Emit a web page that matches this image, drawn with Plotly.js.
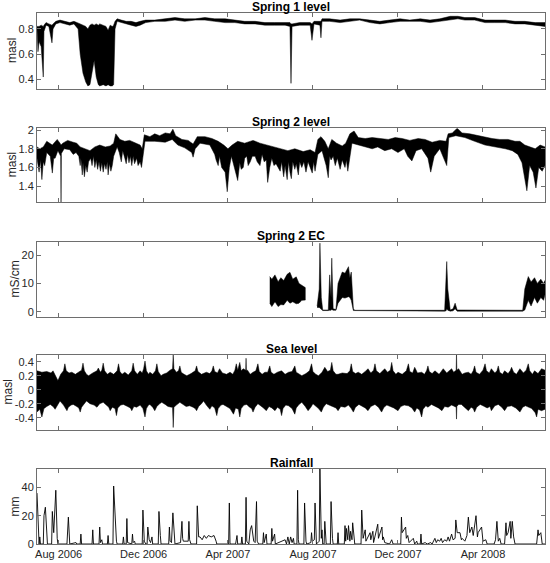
<!DOCTYPE html>
<html>
<head>
<meta charset="utf-8">
<script src="https://cdn.plot.ly/plotly-3.0.1.min.js"></script>
<style>
  html, body { margin: 0; padding: 0; background: #fff; }
  #chart { width: 550px; height: 563px; }
</style>
</head>
<body>
<div id="chart"></div>
<script>
// all series are keyed by day offset from 1 Jul 2006
const startDate = Date.UTC(2006, 6, 1);

const tickDates = ["2006-08-01", "2006-12-01", "2007-04-01", "2007-08-01", "2007-12-01", "2008-04-01"];
const tickLabels = ["Aug 2006", "Dec 2006", "Apr 2007", "Aug 2007", "Dec 2007", "Apr 2008"];

const panelTitles = ["Spring 1 level", "Spring 2 level", "Spring 2 EC", "Sea level", "Rainfall"];
const unitLabels = ["masl", "masl", "mS/cm", "masl", "mm"];

// Spring 1 level: upper / lower edge of the dense trace
const s1Days = [0,1.4,3,6,9,10,13,17,21.5,23,27,33,40,47,53,59,62,66,70,73,76,79,82,85,88,90,95,99,102,105,108,110,112,115,121,128,135,142,148,156,169,184,198,212,227,241,255,270,284,298,313,327,341,356,363,364.5,366,377,392,394.6,397.5,406,407.5,409,420,435,449,463,478,492,506,521,535,550,564,578,593,604,614,628,643,657,672,686,700,715,729];
const s1Hi = [0.82,0.82,0.82,0.83,0.82,0.83,0.85,0.84,0.83,0.84,0.86,0.87,0.86,0.85,0.86,0.85,0.84,0.83,0.82,0.80,0.83,0.84,0.83,0.84,0.83,0.84,0.83,0.82,0.79,0.83,0.82,0.83,0.86,0.88,0.87,0.86,0.86,0.85,0.86,0.87,0.87,0.88,0.89,0.88,0.88,0.89,0.88,0.88,0.87,0.86,0.86,0.85,0.85,0.85,0.85,0.84,0.84,0.85,0.85,0.84,0.86,0.86,0.86,0.88,0.88,0.87,0.88,0.88,0.87,0.86,0.87,0.88,0.87,0.88,0.87,0.88,0.90,0.90,0.89,0.89,0.87,0.87,0.87,0.86,0.86,0.85,0.85];
const s1Lo = [0.80,0.62,0.70,0.66,0.42,0.78,0.83,0.82,0.69,0.80,0.84,0.85,0.84,0.83,0.84,0.80,0.60,0.45,0.38,0.35,0.36,0.45,0.55,0.42,0.36,0.35,0.36,0.35,0.36,0.35,0.35,0.36,0.80,0.86,0.85,0.84,0.83,0.82,0.83,0.85,0.86,0.86,0.87,0.86,0.87,0.87,0.86,0.85,0.85,0.84,0.84,0.83,0.83,0.83,0.82,0.37,0.82,0.83,0.83,0.71,0.84,0.83,0.73,0.86,0.86,0.85,0.86,0.87,0.85,0.84,0.85,0.86,0.86,0.86,0.85,0.86,0.87,0.88,0.87,0.87,0.85,0.85,0.85,0.84,0.84,0.83,0.82];

// Spring 2 level
const s2HiDays = [0,4,9,14,22,29,33,34.5,37,44,52,57,62,69,76,83,90,98,105,110,113,119,126,133,141,148,151,154,162,169,176,184,191,195,199,208,217,224,230,241,251,260,268,274,280,288,298,310,320,331,341.5,352,360,370,382,392,399,403,407.5,413,418,423,430,438,443,449,455,461,471,481,492,504,514,524,535,547,557,567,578,587,590,596,603,610,621,633,643,653,664,676,686,693,700,707,715,722,729];
const s2Hi = [1.82,1.80,1.82,1.88,1.84,1.90,1.86,1.84,1.86,1.89,1.87,1.86,1.82,1.80,1.78,1.82,1.84,1.82,1.83,1.86,1.96,1.90,1.88,1.89,1.86,1.84,1.80,1.95,1.93,1.96,1.94,1.97,1.96,2.01,1.94,1.90,1.89,1.85,1.93,1.93,1.91,1.88,1.84,1.80,1.84,1.88,1.86,1.89,1.86,1.84,1.82,1.80,1.78,1.80,1.77,1.79,1.76,1.90,1.93,1.88,1.80,1.90,1.86,1.83,1.86,1.96,1.99,1.92,1.91,1.92,1.91,1.90,1.92,1.91,1.89,1.91,1.90,1.87,1.89,1.88,1.96,1.97,2.02,1.97,1.96,1.94,1.93,1.91,1.90,1.90,1.88,1.88,1.84,1.82,1.80,1.84,1.82];
const s2LoDays = [0,3,5,7,9,11,14,19,22,24,26,30,34,34.5,35,39,47,52,56,60,62,63,65,66,68,70,72,74,77,79,81,83,85,87,89,91,93,95,97,99,101,102,104,106,108,110,115,118,121,123,126,128,130,132,134,136,138,140,143,145,148,150,152,155,169,184,194,202,212,222,224,227,234,248,255,257,260,262,265,267,270,273,276,279,281,283,286,288,291,293,296,298,301,303,306,309,313,316,320,323,326,329,331,334,337,340,343,349,351,354,356,359,361,363,365,367,370,372,375,377,380,383,386,389,392,395,397,399,403,409,412,415,418,420,422,425,428,431,435,438,442,444,446,452,461,471,481,489,499,509,518,527,532,538,544,552,561,565,570,578,584,588,591,601,614,628,643,657,672,682,690,696,700,703,707,712,716,720,725,729];
const s2Lo = [1.70,1.55,1.68,1.47,1.66,1.62,1.76,1.72,1.54,1.70,1.70,1.78,1.72,1.23,1.75,1.80,1.79,1.74,1.76,1.72,1.62,1.70,1.52,1.65,1.50,1.62,1.55,1.66,1.70,1.62,1.72,1.60,1.68,1.58,1.66,1.56,1.65,1.55,1.64,1.58,1.66,1.52,1.64,1.56,1.62,1.72,1.82,1.76,1.66,1.78,1.70,1.64,1.74,1.65,1.72,1.62,1.72,1.64,1.70,1.62,1.66,1.60,1.68,1.88,1.88,1.87,1.90,1.84,1.81,1.76,1.71,1.80,1.86,1.84,1.74,1.68,1.62,1.72,1.60,1.58,1.55,1.34,1.60,1.72,1.68,1.60,1.52,1.46,1.65,1.58,1.60,1.70,1.72,1.62,1.66,1.72,1.72,1.66,1.62,1.74,1.66,1.68,1.44,1.60,1.70,1.62,1.64,1.56,1.66,1.50,1.62,1.47,1.66,1.55,1.48,1.66,1.58,1.64,1.52,1.66,1.60,1.66,1.55,1.66,1.60,1.54,1.66,1.56,1.74,1.78,1.70,1.62,1.49,1.72,1.68,1.72,1.62,1.70,1.58,1.68,1.60,1.68,1.56,1.86,1.84,1.82,1.80,1.82,1.78,1.80,1.76,1.80,1.72,1.67,1.78,1.80,1.70,1.55,1.72,1.80,1.70,1.62,1.92,1.94,1.92,1.88,1.84,1.82,1.80,1.78,1.74,1.65,1.50,1.35,1.62,1.55,1.38,1.60,1.56,1.62];

// Spring 2 EC, two recorded stretches
const ecDays1 = [334,337,341.5,346,350,354,359,363,367,372,376,380,385];
const ecHi1 = [12.4,11.5,13.0,10.6,12.0,11.0,13.2,13.9,11.5,12.3,10.0,9.4,8.5];
const ecLo1 = [3.0,1.8,3.5,1.8,2.5,2.4,4.0,3.0,3.5,2.8,3.0,4.0,4.1];
const ecDays2 = [402,405,406,408,410,418,420,422,423,425,429,432,438,442,447,449,451,454,456,585,587,588,589.5,593,597,600,603,697,700,705,709,714,718,723,727,729];
const ecHi2 = [2.0,8,24.2,5,0.6,0.6,13,5,18.9,1,0.8,10,14,13.6,15.9,12,14,1,0.5,0.5,12,17.7,8,0.6,1,3,0.6,0.5,8,12.4,10.5,12,10,11.5,10,11];
const ecLo2 = [1.5,1.5,1,0.8,0.4,0.4,0.5,0.5,0.8,0.5,0.5,3,5,4.8,5.3,5,4,0.4,0.2,0.2,0.3,1,0.5,0.2,0.3,1,0.2,0.2,0.6,4,2,5,3,5,4,6];

// Sea level
const seaHiDays = [0,7,14,20,23,27,30,34,38,40,42,46,50,55,59,64,66,68,71,74,80,86,88,91,93,95,97,101,105,110,115,117,119,122,126,131,136,138,140,144,148,151,153,155,157,160,162,166,170,172,174,178,181,186,191,194.5,195.5,196.5,200,203,205,207,211,215,221,227,229,231,236,243,248,251,253,255,259,262,266,272,277,281,284,286,288,291,293,296,299.5,300,300.5,302,306,310,314,317,319,323,327,331,334,336,340,345,351,356,361,366,370,372,376,380,386,391,394,396,400,404,409,413,417,421,423,425,429,432,438,445,449,451,453,457,461,466,471,475,479,483,485,487,492,499,503,507,509,511,515,518,524,530,533,535,539,542,546,552,556,559,561,563,567,571,577,583,588,595,598,601.5,602,602.5,605,610,614,619,623,626,628,630,635,640,643,645,649,652,657,660,662,664,668,671,676,679,681,684,688,693,698,702,705,707,711,714,719,724,729];
const seaHi = [0.27,0.25,0.26,0.24,0.27,0.2,0.13,0.22,0.27,0.37,0.27,0.24,0.25,0.22,0.25,0.28,0.38,0.27,0.22,0.20,0.24,0.27,0.31,0.25,0.28,0.38,0.27,0.22,0.25,0.22,0.27,0.37,0.26,0.22,0.25,0.21,0.27,0.38,0.27,0.22,0.27,0.24,0.30,0.41,0.27,0.22,0.25,0.22,0.27,0.37,0.26,0.2,0.22,0.24,0.28,0.30,0.50,0.30,0.25,0.27,0.34,0.25,0.22,0.20,0.23,0.27,0.34,0.26,0.22,0.25,0.23,0.27,0.34,0.26,0.24,0.30,0.24,0.22,0.25,0.22,0.28,0.37,0.28,0.39,0.27,0.30,0.28,0.45,0.28,0.28,0.22,0.25,0.27,0.37,0.26,0.22,0.25,0.25,0.34,0.25,0.22,0.25,0.27,0.22,0.25,0.26,0.34,0.25,0.22,0.20,0.23,0.27,0.37,0.26,0.22,0.20,0.25,0.32,0.26,0.28,0.39,0.27,0.22,0.22,0.24,0.23,0.27,0.37,0.26,0.23,0.25,0.22,0.26,0.30,0.24,0.28,0.37,0.27,0.23,0.30,0.25,0.28,0.39,0.27,0.22,0.25,0.22,0.27,0.37,0.26,0.24,0.32,0.24,0.25,0.22,0.27,0.34,0.26,0.23,0.27,0.22,0.30,0.24,0.30,0.25,0.28,0.51,0.28,0.30,0.22,0.24,0.25,0.22,0.27,0.34,0.25,0.22,0.28,0.37,0.27,0.24,0.30,0.24,0.27,0.34,0.25,0.22,0.27,0.23,0.27,0.32,0.25,0.22,0.30,0.24,0.28,0.37,0.27,0.22,0.27,0.23,0.30,0.28];
const seaLoDays = [0,4,7,10,14,19,23,26,29,33,38,41,43,45,49,52,57,60,62,64,68,71,76,82,86,90,95,99,103,105,108,112,114,116,120,124,130,134,136,139,143,148,152,155,157,160,162,166,169,172,176,179,184,188,193,194.5,195.5,196.5,200,205,210,214,219,224,227,229,232,236,239,243,248,251,255,258,260,264,267,272,277,282,285,289,291,293,297,301,305,308,310,313,317,320,325,329,333,337,341.5,345,349,351,353,357,361,366,370,372,376,380,385,389,393,396,399,404,408,411,415,418,424,429,432,436,442,447,451,454,457,462,466,471,475,479,485,490,494.5,498,502,506,512,518,522,527,533,538,542,545,549,552,554,558,561,566,571,576,581,585,590,595,601.5,602,602.5,605,609,614,619,623,626,628,631,636,640,646,650,652,657,662,667,671,675,681,687,693,697,701,705,710,715,717,719,724,729];
const seaLo = [-0.32,-0.28,-0.39,-0.27,-0.24,-0.21,-0.24,-0.28,-0.22,-0.16,-0.22,-0.26,-0.30,-0.25,-0.22,-0.21,-0.24,-0.26,-0.32,-0.25,-0.2,-0.16,-0.2,-0.22,-0.25,-0.2,-0.18,-0.22,-0.25,-0.30,-0.25,-0.27,-0.37,-0.26,-0.22,-0.21,-0.24,-0.26,-0.30,-0.24,-0.25,-0.22,-0.27,-0.39,-0.27,-0.22,-0.21,-0.25,-0.30,-0.24,-0.2,-0.18,-0.21,-0.24,-0.25,-0.25,-0.54,-0.25,-0.22,-0.18,-0.21,-0.24,-0.23,-0.25,-0.27,-0.30,-0.24,-0.2,-0.16,-0.22,-0.28,-0.23,-0.26,-0.37,-0.27,-0.22,-0.21,-0.24,-0.27,-0.35,-0.26,-0.28,-0.39,-0.27,-0.22,-0.21,-0.25,-0.27,-0.32,-0.25,-0.2,-0.23,-0.26,-0.30,-0.24,-0.26,-0.30,-0.25,-0.28,-0.37,-0.27,-0.22,-0.23,-0.27,-0.35,-0.26,-0.21,-0.18,-0.24,-0.30,-0.25,-0.2,-0.23,-0.27,-0.32,-0.25,-0.2,-0.21,-0.24,-0.26,-0.30,-0.24,-0.25,-0.22,-0.27,-0.32,-0.25,-0.21,-0.23,-0.26,-0.30,-0.24,-0.21,-0.25,-0.32,-0.25,-0.22,-0.23,-0.26,-0.30,-0.24,-0.22,-0.23,-0.26,-0.32,-0.26,-0.29,-0.39,-0.28,-0.23,-0.25,-0.21,-0.23,-0.26,-0.30,-0.24,-0.25,-0.22,-0.25,-0.42,-0.24,-0.21,-0.21,-0.25,-0.30,-0.25,-0.27,-0.32,-0.25,-0.21,-0.23,-0.26,-0.24,-0.30,-0.23,-0.21,-0.25,-0.30,-0.24,-0.23,-0.26,-0.32,-0.25,-0.23,-0.25,-0.27,-0.33,-0.39,-0.28,-0.30,-0.28];

// Rainfall (mm)
const rainDays = [0,2,3,4,5,9,10,12,14,15,21,22,24,27,29,30,43,45,47,56,57,62,63,64,79,80,81,89,90,91,93,94,101,102,103,109,110,112,114,115,123,124,125,128,129,130,136,137,138,140,141,151,152,154,156,158,159,161,163,165,166,174,175,177,178,189,190,191,193,195,197,198,206,208,209,210,217,218,219,221,229,230,232,234,237,240,243,246,250,254,257,258,275,276,277,285,287,288,293,294,295,299,300,301,304,306,308,310,311,313,315,316,318,324,325,326,329,330,336,337,338,341,342,356,358,360,362,364,366,368,369,373,374,375,376,383,384,386,387,393,394,395,398,399,400,401,405,406,408,409,410,412,413,414,415,421,422,424,425,431,432,433,441,442,443,444,446,447,449,450,452,453,455,456,465,466,468,471,472,478,479,482,483,489,490,491,495,496,497,499,506,509,511,522,523,524,529,530,532,534,540,542,545,546,550,551,552,557,560,565,567,571,573,575,578,580,582,585,588,590,592,595,597,600,601,603,607,609,610,614,617,619,621,624,626,630,632,633,638,640,644,646,656,658,660,662,664,666,671,673,674,676,679,680,682,684,686,717,719,720,723,725,729];
const rainMm = [36,2,0,5,0,0,20,26,2,0,0,23,8,38,4,0,0,19,0,1,0,0,7,0,0,10,0,0,12,1,3,0,0,6,0,0,41,16,2,0,0,5,0,0,18,1,0,7,1,2,0,0,24,2,0,0,12,3,1,5,0,0,23,6,0,0,12,2,1,22,3,0,1,16,4,2,2,16,3,0,0,27,5,5,3,6,4,6,5,6,2,0,0,29,0,0,6,0,0,5,0,0,33,2,0,10,13,7,2,1,30,2,0,0,8,1,7,0,0,11,2,7,0,3,0,5,0,5,1,4,0,0,38,3,0,0,29,2,0,1,8,2,3,29,5,0,2,53,4,10,0,0,16,3,0,0,30,4,0,0,8,0,0,13,2,11,3,13,2,9,3,15,4,0,0,24,4,10,2,8,3,9,1,14,4,6,12,3,5,1,0,3,0,0,19,8,12,4,6,1,4,0,2,0,0,7,0,1,0,1,0,4,1,3,2,4,1,3,2,5,2,7,3,4,17,8,8,3,4,2,6,19,8,12,6,20,5,8,12,2,3,0,0,3,16,2,4,0,0,15,6,8,16,4,16,5,0,0,10,6,8,0,0];

[[s1Days, s1Hi], [s1Days, s1Lo], [s2HiDays, s2Hi], [s2LoDays, s2Lo], [ecDays1, ecHi1], [ecDays1, ecLo1],
 [ecDays2, ecHi2], [ecDays2, ecLo2], [seaHiDays, seaHi], [seaLoDays, seaLo], [rainDays, rainMm]].forEach((p, i) => {
  if (p[0].length !== p[1].length) throw new Error("length mismatch in pair " + i + ": " + p[0].length + " vs " + p[1].length);
});

function toDate(d) {
  return new Date(startDate + d * 864e5).toISOString().slice(0, 19).replace("T", " ");
}

// closed outline between an upper and a lower edge, filled black
function band(hiDays, hi, loDays, lo, n) {
  return {
    x: hiDays.concat(loDays.slice().reverse()).map(toDate),
    y: hi.concat(lo.slice().reverse()),
    xaxis: "x" + (n > 1 ? n : ""),
    yaxis: "y" + (n > 1 ? n : ""),
    type: "scatter",
    mode: "lines",
    fill: "toself",
    fillcolor: "#000",
    line: { color: "#000", width: 0.5 },
    hoverinfo: "skip",
    showlegend: false,
  };
}

const traces = [
  band(s1Days, s1Hi, s1Days, s1Lo, 1),
  band(s2HiDays, s2Hi, s2LoDays, s2Lo, 2),
  band(ecDays1, ecHi1, ecDays1, ecLo1, 3),
  band(ecDays2, ecHi2, ecDays2, ecLo2, 3),
  band(seaHiDays, seaHi, seaLoDays, seaLo, 4),
  {
    x: rainDays.map(toDate),
    y: rainMm,
    xaxis: "x5",
    yaxis: "y5",
    type: "scatter",
    mode: "lines",
    line: { color: "#000", width: 0.9 },
    hoverinfo: "skip",
    showlegend: false,
  },
];

const domains = [[0.857, 1.0], [0.644, 0.783], [0.4275, 0.5687], [0.2147, 0.3559], [0, 0.1412]];
const yRanges = [[0.326, 0.926], [1.23, 2.02], [-1.87, 24.6], [-0.576, 0.496], [0, 53]];
const yTicks = [[0.4, 0.6, 0.8], [1.4, 1.6, 1.8, 2], [0, 10, 20], [-0.4, -0.2, 0, 0.2, 0.4], [0, 20, 40]];
const yTickText = [["0.4", "0.6", "0.8"], ["1.4", "1.6", "1.8", "2"], ["0", "10", "20"], ["-0.4", "-0.2", "0", "0.2", "0.4"], ["0", "20", "40"]];
const unitShift = [-25, -25, -22, -29, -22];

const lineCol = "#6e6e6e";
const textCol = "#262626";

const layout = {
  width: 550,
  height: 563,
  margin: { l: 37, r: 5, t: 13, b: 19 },
  paper_bgcolor: "#fff",
  plot_bgcolor: "#fff",
  font: { family: "Liberation Sans, Arial, sans-serif", size: 11, color: textCol },
  showlegend: false,
  annotations: [],
};

for (let i = 0; i < 5; i++) {
  const n = i + 1;
  const sfx = n > 1 ? n : "";
  layout["xaxis" + sfx] = {
    type: "date",
    anchor: "y" + sfx,
    range: [toDate(0), toDate(729)],
    tickvals: tickDates,
    ticktext: tickLabels,
    showticklabels: n === 5,
    ticks: "inside",
    ticklen: 4,
    tickcolor: lineCol,
    showline: true,
    linecolor: lineCol,
    linewidth: 1,
    mirror: "ticks",
    showgrid: false,
    zeroline: false,
    tickfont: { size: 11, color: textCol },
  };
  if (n > 1) layout["xaxis" + sfx].matches = "x";
  layout["yaxis" + sfx] = {
    domain: domains[i],
    anchor: "x" + sfx,
    range: yRanges[i],
    tickvals: yTicks[i],
    ticktext: yTickText[i],
    ticks: "inside",
    ticklen: 4,
    tickcolor: lineCol,
    showline: true,
    linecolor: lineCol,
    linewidth: 1,
    mirror: "ticks",
    showgrid: false,
    zeroline: false,
    tickfont: { size: 11, color: textCol },
  };
  layout.annotations.push({
    text: "<b>" + panelTitles[i] + "</b>",
    xref: "paper", yref: "paper",
    x: 0.5, y: domains[i][1],
    xanchor: "center", yanchor: "bottom",
    yshift: -3,
    showarrow: false,
    font: { size: 12, color: "#000" },
  });
  layout.annotations.push({
    text: unitLabels[i],
    xref: "paper", yref: "paper",
    x: 0, y: (domains[i][0] + domains[i][1]) / 2,
    xanchor: "center", yanchor: "middle",
    xshift: unitShift[i],
    textangle: -90,
    showarrow: false,
    font: { size: 12, color: textCol },
  });
}

Plotly.newPlot("chart", traces, layout, { displayModeBar: false, staticPlot: true });
</script>
</body>
</html>
